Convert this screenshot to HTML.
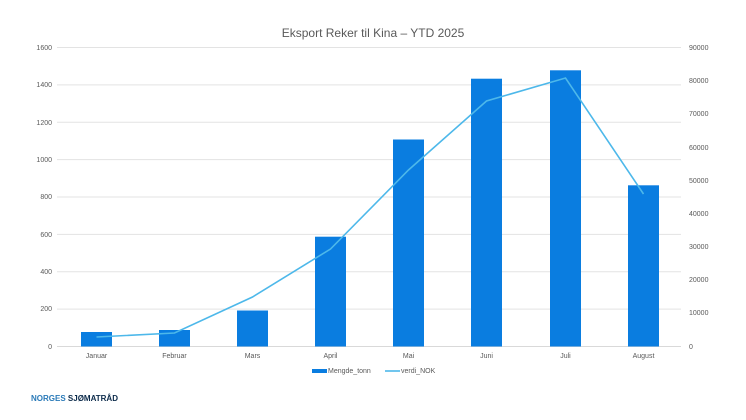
<!DOCTYPE html>
<html><head><meta charset="utf-8"><style>
body{margin:0;background:#fff;}
svg{display:block;font-family:"Liberation Sans",sans-serif;}
</style></head><body>
<svg width="746" height="420" viewBox="0 0 746 420" xmlns="http://www.w3.org/2000/svg">
<rect width="746" height="420" fill="#fff"/>
<text x="373" y="37" text-anchor="middle" font-size="12" fill="#595959">Eksport Reker til Kina – YTD 2025</text>
<g stroke="#e3e3e3" stroke-width="1">
<line x1="57" y1="47.5" x2="681" y2="47.5"/>
<line x1="57" y1="84.9" x2="681" y2="84.9"/>
<line x1="57" y1="122.3" x2="681" y2="122.3"/>
<line x1="57" y1="159.6" x2="681" y2="159.6"/>
<line x1="57" y1="197" x2="681" y2="197"/>
<line x1="57" y1="234.4" x2="681" y2="234.4"/>
<line x1="57" y1="271.8" x2="681" y2="271.8"/>
<line x1="57" y1="309.1" x2="681" y2="309.1"/>
<line x1="57" y1="346.5" x2="681" y2="346.5" stroke="#d9d9d9"/>
</g>
<g font-size="7" fill="#595959" text-anchor="end">
<text x="52" y="50">1600</text><text x="52" y="87">1400</text><text x="52" y="125">1200</text>
<text x="52" y="162">1000</text><text x="52" y="199">800</text><text x="52" y="237">600</text>
<text x="52" y="274">400</text><text x="52" y="311">200</text><text x="52" y="349">0</text>
</g>
<g font-size="7" fill="#595959" text-anchor="start">
<text x="689" y="50">90000</text><text x="689" y="83">80000</text><text x="689" y="116">70000</text>
<text x="689" y="150">60000</text><text x="689" y="183">50000</text><text x="689" y="216">40000</text>
<text x="689" y="249">30000</text><text x="689" y="282">20000</text><text x="689" y="315">10000</text>
<text x="689" y="349">0</text>
</g>
<g fill="#0a7de0">
<rect x="81" y="332" width="31" height="14.5"/>
<rect x="159" y="330" width="31" height="16.5"/>
<rect x="237" y="310.5" width="31" height="36"/>
<rect x="315" y="236.7" width="31" height="109.8"/>
<rect x="393" y="139.5" width="31" height="207"/>
<rect x="471" y="78.7" width="31" height="267.8"/>
<rect x="550" y="70.3" width="31" height="276.2"/>
<rect x="628" y="185.3" width="31" height="161.2"/>
</g>
<polyline fill="none" stroke="#4db8ea" stroke-width="1.6" points="96.5,337 174.5,333 252.5,297 330.5,249 408.5,170 486.5,101 565.5,78 643.5,194"/>
<g font-size="7" fill="#595959" text-anchor="middle">
<text x="96.5" y="358">Januar</text><text x="174.5" y="358">Februar</text><text x="252.5" y="358">Mars</text>
<text x="330.5" y="358">April</text><text x="408.5" y="358">Mai</text><text x="486.5" y="358">Juni</text>
<text x="565.5" y="358">Juli</text><text x="643.5" y="358">August</text>
</g>
<rect x="312" y="369" width="15" height="4" fill="#0a7de0"/>
<text x="328" y="373" font-size="7" fill="#595959">Mengde_tonn</text>
<line x1="385" y1="371" x2="400" y2="371" stroke="#4db8ea" stroke-width="1.6"/>
<text x="401" y="373" font-size="7" fill="#595959">verdi_NOK</text>
<text x="31" y="401" font-size="8" font-weight="bold"><tspan fill="#2a7ab8">NORGES </tspan><tspan fill="#0b2a4a">SJØMATRÅD</tspan></text>
</svg>
</body></html>
